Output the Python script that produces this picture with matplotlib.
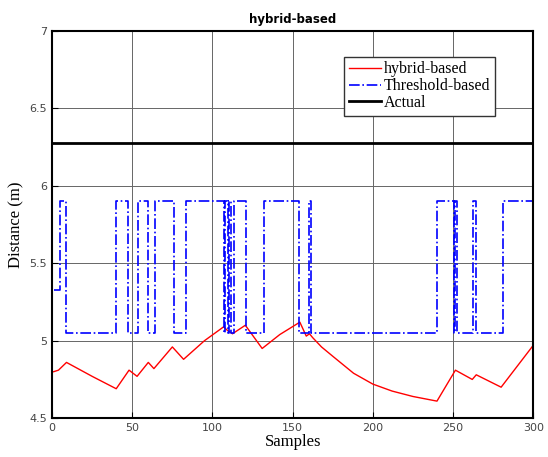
import matplotlib.pyplot as plt

# ------------------------------------------- #
#  Data          #
# ------------------------------------------- #
# hybrid-based estimate (breakpoints of the red line)
hybrid_x = [1, 4, 9, 25, 40, 48, 53, 60, 63.5, 75, 82, 95, 107, 109, 112.5, 120.5,
            131, 142, 154.5, 158.5, 160.5, 162.5, 168, 175, 188, 200, 212, 225, 240,
            251.5, 262, 264.5, 280, 300]
hybrid_y = [4.80, 4.81, 4.86, 4.77, 4.69, 4.81, 4.77, 4.86, 4.82, 4.96, 4.88, 5.00, 5.09,
            5.07, 5.045, 5.10, 4.95, 5.04, 5.12, 5.03, 5.045, 5.02, 4.96, 4.90, 4.79,
            4.72, 4.675, 4.64, 4.61, 4.81, 4.75, 4.78, 4.70, 4.97]

# threshold-based estimate (switching points, held until the next one)
thr_x = [1, 5, 8.5, 40, 47.5, 53.5, 60, 64, 76, 83.5, 107, 108, 109.5, 110.5, 111.5,
         113.5, 121, 132, 154, 160.5, 161.5, 240, 250.5, 251.5, 252.5, 262.5, 264.5,
         281, 300]
thr_y = [5.33, 5.90, 5.05, 5.90, 5.05, 5.90, 5.05, 5.90, 5.05, 5.90, 5.05, 5.90, 5.05,
         5.90, 5.05, 5.90, 5.05, 5.90, 5.05, 5.90, 5.05, 5.90, 5.05, 5.90, 5.05, 5.90,
         5.05, 5.90, 5.90]

# ground truth distance
actual_x = [0, 300]
actual_y = [6.28, 6.28]

x_ticks = [0, 50, 100, 150, 200, 250, 300]
y_ticks = [4.5, 5, 5.5, 6, 6.5, 7]


# ------------------------------------------- #
#  Figure                                     #
# ------------------------------------------- #
fig = plt.figure(figsize=(5.48, 4.57), dpi=100)
ax = fig.add_axes([0.095, 0.085, 0.878, 0.847])

ax.plot(hybrid_x, hybrid_y, color='red', lw=1.0, label='hybrid-based')
ax.plot(thr_x, thr_y, color='blue', lw=1.2, ls='-.', drawstyle='steps-post',
        label='Threshold-based')
ax.plot(actual_x, actual_y, color='black', lw=2.0, label='Actual')

ax.set_xlim(0, 300)
ax.set_ylim(4.5, 7)
ax.set_xticks(x_ticks)
ax.set_yticks(y_ticks)
ax.set_xticklabels([str(t) for t in x_ticks])
ax.set_yticklabels(['4.5', '5', '5.5', '6', '6.5', '7'])
ax.tick_params(direction='in', labelsize=8, labelcolor='#444444', length=4)
ax.grid(True, color='#666666', lw=0.7)
for s in ax.spines.values():
    s.set_linewidth(1.5)

ax.set_xlabel('Samples', family='Liberation Serif', fontsize=12, labelpad=1)
ax.set_ylabel('Distance (m)', family='Liberation Serif', fontsize=12, labelpad=4)
ax.set_title('hybrid-based', fontsize=8.5, fontweight='bold', pad=6)

leg = ax.legend(loc='upper left', bbox_to_anchor=(0.607, 0.934), fancybox=False,
                framealpha=1, edgecolor='#333333', borderpad=0.3, labelspacing=0.05,
                handlelength=2.0, handletextpad=0.2, borderaxespad=0,
                prop={'family': 'Liberation Serif', 'size': 11.5})
leg.get_frame().set_linewidth(1.0)

fig.savefig('out.png', dpi=100)
